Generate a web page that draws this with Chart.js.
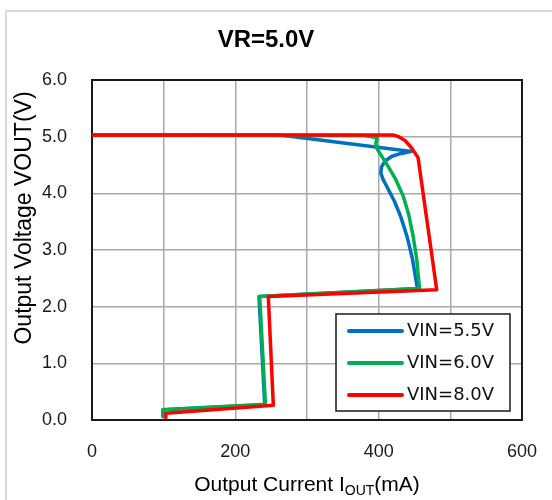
<!DOCTYPE html>
<html>
<head>
<meta charset="utf-8">
<script src="https://cdn.jsdelivr.net/npm/chart.js@4/dist/chart.umd.min.js"></script>
<style>
  body { margin: 0; background: #fff; }
  #wrap { position: relative; width: 552px; height: 500px; }
</style>
</head>
<body>
<div id="wrap"><canvas id="chart" width="552" height="500"></canvas></div>
<script>
// Output current (mA) / output voltage (V) for each VIN
const vin55X = [0, 262, 446, 430, 418, 409, 404, 403, 406, 413, 422, 431, 440, 447, 451, 454, 233, 241, 99, 99];
const vin55Y = [5.03, 5.03, 4.74, 4.70, 4.65, 4.57, 4.47, 4.36, 4.25, 4.08, 3.86, 3.58, 3.22, 2.85, 2.55, 2.32, 2.18, 0.27, 0.18, 0.06];

const vin60X = [0, 380, 398, 396, 398, 404, 413, 424, 434, 442, 448, 453, 457, 234, 242, 99, 99];
const vin60Y = [5.03, 5.02, 4.98, 4.88, 4.78, 4.66, 4.48, 4.24, 3.96, 3.62, 3.25, 2.85, 2.32, 2.18, 0.28, 0.18, 0.06];

const vin80X = [0, 420, 428, 437, 446, 455, 481, 246, 253, 103, 103];
const vin80Y = [5.03, 5.03, 5.0, 4.93, 4.80, 4.63, 2.30, 2.18, 0.26, 0.12, 0.04];

const seriesLabels = ['VIN=5.5V', 'VIN=6.0V', 'VIN=8.0V'];
const seriesColors = ['#0070C0', '#00B050', '#FF0000'];

const xTicks = [0, 200, 400, 600];
const yTicks = ['0.0', '1.0', '2.0', '3.0', '4.0', '5.0', '6.0'];

function toPoints(xs, ys) {
    return xs.map((x, i) => ({ x: x, y: ys[i] }));
}

const datasets = [
    toPoints(vin55X, vin55Y),
    toPoints(vin60X, vin60Y),
    toPoints(vin80X, vin80Y)
].map((pts, i) => ({
    label: seriesLabels[i],
    data: pts,
    order: 2 - i, // later series drawn on top
    borderColor: seriesColors[i],
    backgroundColor: seriesColors[i],
    borderWidth: 3.5,
    pointRadius: 0,
    tension: 0,
    borderJoinStyle: 'round',
    borderCapStyle: 'round'
}));

const FONT = '"Liberation Sans", Arial, sans-serif';

// frame, plot box, titles and legend
const decor = {
    id: 'decor',
    beforeDraw(chart) {
        const ctx = chart.ctx;
        ctx.save();
        ctx.fillStyle = '#fff';
        ctx.fillRect(0, 0, chart.width, chart.height);
        ctx.strokeStyle = '#d9d9d9';
        ctx.lineWidth = 2;
        ctx.strokeRect(6, 11, 700, 700);
        ctx.restore();
    },
    beforeDatasetsDraw(chart) {
        const { ctx, chartArea: a } = chart;
        ctx.save();
        ctx.strokeStyle = '#1a1a1a';
        ctx.lineWidth = 2;
        ctx.strokeRect(a.left, a.top, a.right - a.left, a.bottom - a.top);
        ctx.restore();
    },
    afterDraw(chart) {
        const { ctx, chartArea: a } = chart;
        ctx.save();
        ctx.fillStyle = '#000';

        // title
        ctx.font = 'bold 24px ' + FONT;
        ctx.textAlign = 'center';
        ctx.textBaseline = 'middle';
        ctx.fillText('VR=5.0V', 266, 40);

        // y axis title
        ctx.save();
        ctx.translate(25, 218);
        ctx.rotate(-Math.PI / 2);
        ctx.font = '23px ' + FONT;
        ctx.fillText('Output Voltage VOUT(V)', 0, 0);
        ctx.restore();

        // x axis title with subscript
        const main = '21px ' + FONT;
        const sub = '14px ' + FONT;
        ctx.textAlign = 'left';
        ctx.textBaseline = 'alphabetic';
        ctx.font = main;
        const w1 = ctx.measureText('Output Current I').width;
        const w3 = ctx.measureText('(mA)').width;
        ctx.font = sub;
        const w2 = ctx.measureText('OUT').width;
        let x = (a.left + a.right) / 2 - (w1 + w2 + w3) / 2;
        const base = 491;
        ctx.font = main;
        ctx.fillText('Output Current I', x, base);
        x += w1;
        ctx.font = sub;
        ctx.fillText('OUT', x, base + 4);
        x += w2;
        ctx.font = main;
        ctx.fillText('(mA)', x, base);

        // legend
        const lx = 336, ly = 314, lw = 174, lh = 97;
        ctx.fillStyle = '#fff';
        ctx.fillRect(lx, ly, lw, lh);
        ctx.strokeStyle = '#1a1a1a';
        ctx.lineWidth = 1.5;
        ctx.strokeRect(lx, ly, lw, lh);
        ctx.font = '18px "DejaVu Sans", sans-serif';
        ctx.textBaseline = 'middle';
        chart.data.datasets.forEach((ds, i) => {
            const y = ly + 17 + i * 32;
            ctx.strokeStyle = ds.borderColor;
            ctx.lineWidth = 4;
            ctx.lineCap = 'round';
            ctx.beginPath();
            ctx.moveTo(lx + 13, y);
            ctx.lineTo(lx + 66, y);
            ctx.stroke();
            ctx.fillStyle = '#111';
            ctx.fillText(ds.label, lx + 71, y);
        });
        ctx.restore();
    }
};

new Chart(document.getElementById('chart'), {
    type: 'line',
    data: { datasets: datasets },
    plugins: [decor],
    options: {
        responsive: false,
        animation: false,
        layout: { padding: { top: 80, right: 30, left: 0, bottom: 0 } },
        plugins: {
            legend: { display: false },
            title: { display: false },
            tooltip: { enabled: false }
        },
        scales: {
            x: {
                type: 'linear',
                min: xTicks[0],
                max: xTicks[xTicks.length - 1],
                afterFit: (s) => { s.height = 80; s.paddingRight = 0; s.paddingLeft = 0; },
                grid: { color: '#aaaaaa', lineWidth: 1.5, drawTicks: false },
                border: { display: false },
                ticks: {
                    stepSize: 100,
                    autoSkip: false,
                    maxRotation: 0,
                    padding: 21,
                    color: '#1a1a1a',
                    font: { family: FONT, size: 18 },
                    callback: (v) => xTicks.includes(v) ? String(v) : ''
                }
            },
            y: {
                type: 'linear',
                min: 0,
                max: 6,
                afterFit: (s) => { s.width = 92; },
                grid: { color: '#aaaaaa', lineWidth: 1.5, drawTicks: false },
                border: { display: false },
                ticks: {
                    stepSize: 1,
                    padding: 25,
                    color: '#1a1a1a',
                    font: { family: FONT, size: 18 },
                    callback: (v) => yTicks[Math.round(v)]
                }
            }
        }
    }
});
</script>
</body>
</html>
